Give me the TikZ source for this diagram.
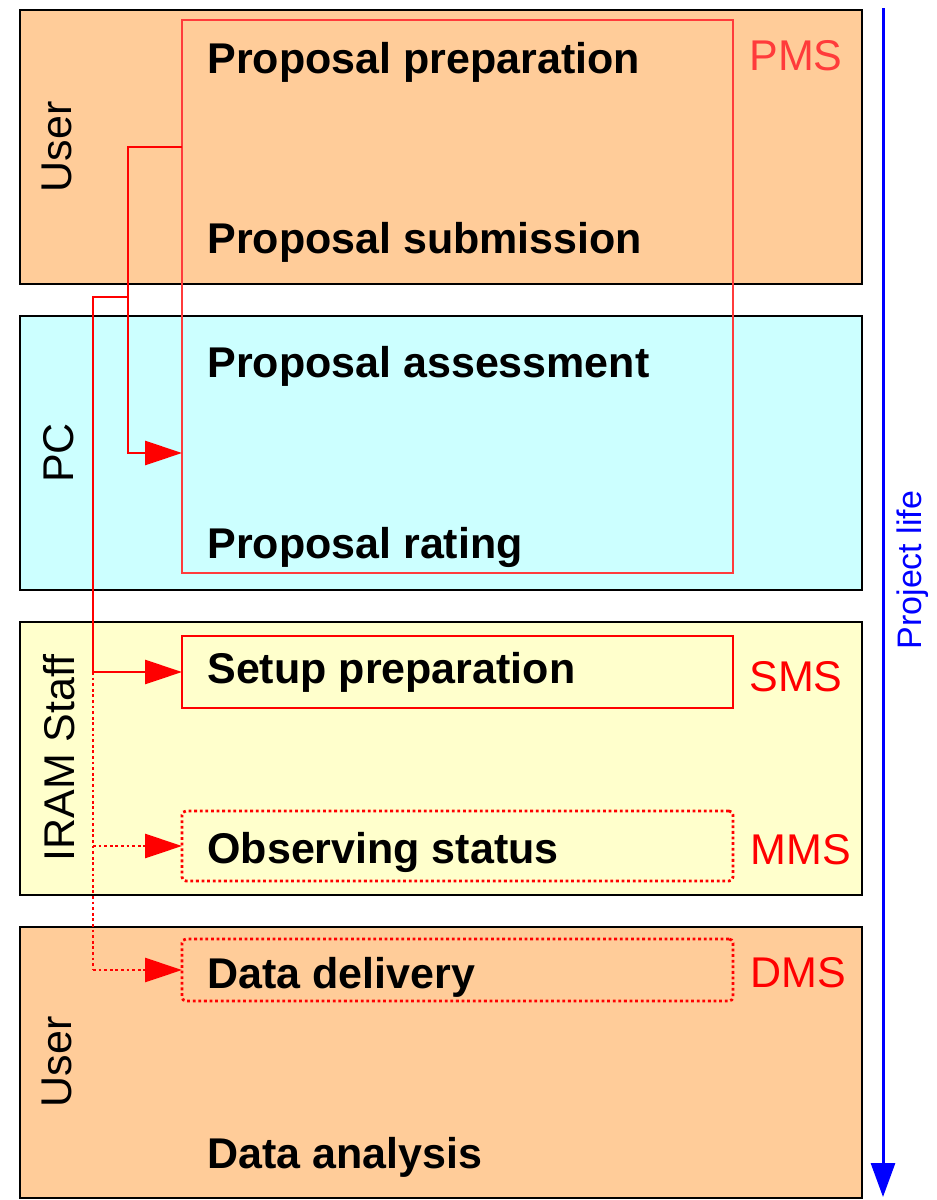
\documentclass[tikz,border=0pt]{standalone}
\usepackage{fontspec}
\setmainfont{Liberation Sans}
\usetikzlibrary{arrows.meta}
\definecolor{peach}{RGB}{255,204,153}
\definecolor{lcyan}{RGB}{204,255,255}
\definecolor{lyellow}{RGB}{255,255,204}
\definecolor{pmsred}{RGB}{255,59,59}
\definecolor{sred}{RGB}{255,0,0}
\definecolor{lblue}{RGB}{0,0,255}
\tikzset{
  band/.style={draw=black, line width=1.4pt, minimum width=421pt, anchor=north west, inner sep=0pt, outer sep=0pt},
  sysbox/.style={line width=1.4pt, minimum width=275.5pt, anchor=north west, inner sep=0pt, outer sep=0pt},
  dotbox/.style={sysbox, draw=sred, rounded corners=2pt, dash pattern=on 1.4pt off 1.4pt},
  task/.style={anchor=base west, inner sep=0pt, font=\bfseries\fontsize{21.5}{25}\selectfont},
  actor/.style={anchor=base, inner sep=0pt, rotate=90, font=\fontsize{21.5}{25}\selectfont},
  syslbl/.style={anchor=base west, inner sep=0pt, font=\fontsize{21.5}{25}\selectfont},
  conn/.style={draw=sred, line width=1.4pt, -{Triangle[length=18.5pt,width=12pt]}},
  dotconn/.style={conn, dash pattern=on 1.4pt off 1.4pt},
}
\begin{document}
\begin{tikzpicture}[x=0.5pt,y=-0.5pt]
\useasboundingbox (0,0) rectangle (937,1200);
% bands
\node[band, fill=peach, minimum height=137pt] (user1) at (20,10) {};
\node[band, fill=lcyan, minimum height=137pt] (pc) at (20,316) {};
\node[band, fill=lyellow, minimum height=136.5pt] (iram) at (20,622) {};
\node[band, fill=peach, minimum height=135.5pt] (user2) at (20,927) {};
% actor labels
\node[actor] (luser1) at (71,147) {User};
\node[actor] (lpc) at (73,453) {PC};
\node[actor] (liram) at (75,758) {IRAM Staff};
\node[actor] (luser2) at (71,1062) {User};
% system boxes
\node[sysbox, draw=pmsred, minimum height=276.5pt] (pms) at (182,20) {};
\node[sysbox, draw=sred, minimum height=36pt] (sms) at (182,636) {};
\node[dotbox, minimum height=35pt] (mms) at (182,811) {};
\node[dotbox, minimum height=31pt] (dms) at (182,939) {};
% system labels
\node[syslbl, text=pmsred] (lpms) at (749,70) {PMS};
\node[syslbl, text=sred] (lsms) at (749,691) {SMS};
\node[syslbl, text=sred] (lmms) at (750,864) {MMS};
\node[syslbl, text=sred] (ldms) at (750,987) {DMS};
% tasks
\node[task] (t1) at (207,73) {Proposal preparation};
\node[task] (t2) at (207,253) {Proposal submission};
\node[task] (t3) at (207,377) {Proposal assessment};
\node[task] (t4) at (207,558) {Proposal rating};
\node[task] (t5) at (207,683) {Setup preparation};
\node[task] (t6) at (207,863) {Observing status};
\node[task] (t7) at (207,988) {Data delivery};
\node[task] (t8) at (207,1168) {Data analysis};
% connectors
\coordinate (k1) at (128,147);
\coordinate (k2) at (128,297);
\coordinate (k3) at (93,297);
\coordinate (k4) at (93,672);
\coordinate (k5) at (93,846);
\coordinate (k6) at (93,970);
\draw[conn] (pms.west |- user1.center) -- (k1) -- (k1 |- pc.center) -- (pms.west |- pc.center);
\draw[conn] (k2) -- (k3) -- (k4) -- (sms.west);
\draw[draw=sred, line width=1.4pt, dash pattern=on 1.4pt off 1.4pt] (k4) -- (k6);
\draw[dotconn] (k5) -- (mms.west);
\draw[dotconn] (k6) -- (dms.west);
% project life
\coordinate (ls) at (883,8);
\coordinate (le) at (883,1197);
\draw[draw=lblue, line width=1.5pt, -{Triangle[length=17pt,width=12pt]}] (ls) -- (le);
\node[actor, text=lblue, font=\fontsize{17}{20}\selectfont] (life) at (921,570) {Project life};
\end{tikzpicture}
\end{document}
